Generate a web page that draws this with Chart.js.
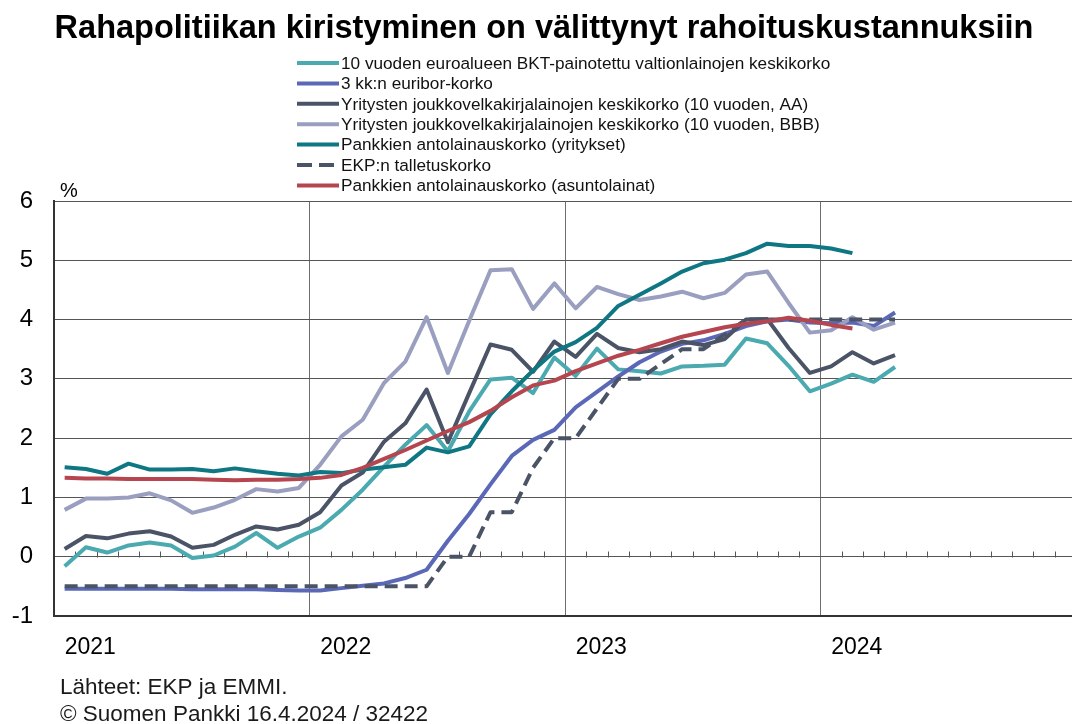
<!DOCTYPE html>
<html><head><meta charset="utf-8">
<script src="https://cdn.jsdelivr.net/npm/chart.js@4.4.1/dist/chart.umd.min.js"></script>
<style>
html,body{margin:0;padding:0;background:#fff;overflow:hidden;}
#wrap{position:relative;width:1080px;height:724px;}
canvas{display:block;}
</style></head><body>
<div id="wrap"><canvas id="c" width="1080" height="724"></canvas></div>
<script>
// ---- categories ----
const years = ['2021', '2022', '2023', '2024'];
const monthNums = ['01','02','03','04','05','06','07','08','09','10','11','12'];
const months = years.flatMap(y => monthNums.map(m => y + '-' + m));

// ---- series (monthly, %, Jan 2021 ... Apr 2024) ----
const gov10 = [-0.16, 0.16, 0.07, 0.19, 0.24, 0.19, -0.02, 0.02, 0.17, 0.40, 0.15, 0.34,
  0.49, 0.79, 1.13, 1.52, 1.89, 2.22, 1.78, 2.45, 2.99, 3.02, 2.76, 3.36,
  3.05, 3.51, 3.16, 3.13, 3.09, 3.21, 3.22, 3.24, 3.68, 3.60, 3.22, 2.79,
  2.92, 3.07, 2.95, 3.20];
const euribor3m = [-0.54, -0.54, -0.54, -0.54, -0.54, -0.54, -0.55, -0.55, -0.55, -0.55, -0.56, -0.57,
  -0.57, -0.53, -0.49, -0.45, -0.36, -0.22, 0.27, 0.72, 1.22, 1.70, 1.97, 2.14,
  2.52, 2.78, 3.04, 3.28, 3.46, 3.59, 3.65, 3.76, 3.89, 3.97, 4.00, 3.95,
  3.94, 3.95, 3.89, 4.12];
const corpAA = [0.13, 0.35, 0.31, 0.39, 0.43, 0.34, 0.15, 0.20, 0.37, 0.51, 0.46, 0.54,
  0.75, 1.20, 1.42, 1.94, 2.25, 2.82, 1.93, 2.76, 3.58, 3.49, 3.12, 3.63,
  3.37, 3.76, 3.52, 3.45, 3.50, 3.63, 3.57, 3.67, 4.00, 4.01, 3.52, 3.10,
  3.21, 3.45, 3.26, 3.40];
const corpBBB = [0.79, 0.98, 0.98, 1.00, 1.07, 0.95, 0.74, 0.83, 0.96, 1.14, 1.10, 1.16,
  1.55, 2.03, 2.31, 2.93, 3.29, 4.04, 3.10, 3.98, 4.83, 4.85, 4.18, 4.61,
  4.19, 4.55, 4.43, 4.33, 4.39, 4.47, 4.36, 4.45, 4.76, 4.81, 4.28, 3.78,
  3.82, 4.04, 3.83, 3.95];
const bankLoansCorp = [1.51, 1.48, 1.40, 1.57, 1.47, 1.47, 1.48, 1.44, 1.49, 1.44, 1.40, 1.37,
  1.43, 1.41, 1.47, 1.51, 1.55, 1.84, 1.76, 1.86, 2.40, 2.79, 3.14, 3.46,
  3.62, 3.86, 4.23, 4.42, 4.61, 4.81, 4.95, 5.01, 5.12, 5.28, 5.24, 5.24,
  5.20, 5.12];
const ecbDeposit = [-0.5, -0.5, -0.5, -0.5, -0.5, -0.5, -0.5, -0.5, -0.5, -0.5, -0.5, -0.5,
  -0.5, -0.5, -0.5, -0.5, -0.5, -0.5, 0.0, 0.0, 0.75, 0.75, 1.5, 2.0,
  2.0, 2.5, 3.0, 3.0, 3.25, 3.5, 3.5, 3.75, 4.0, 4.0, 4.0, 4.0,
  4.0, 4.0, 4.0, 4.0];
const bankLoansHousing = [1.33, 1.32, 1.32, 1.31, 1.31, 1.31, 1.31, 1.30, 1.29, 1.30, 1.30, 1.31,
  1.33, 1.38, 1.50, 1.65, 1.80, 1.96, 2.12, 2.27, 2.46, 2.69, 2.89, 2.97,
  3.13, 3.26, 3.39, 3.49, 3.60, 3.71, 3.79, 3.87, 3.93, 3.97, 4.03, 3.98,
  3.91, 3.85];

const seriesLabels = [
  '10 vuoden euroalueen BKT-painotettu valtionlainojen keskikorko',
  '3 kk:n euribor-korko',
  'Yritysten joukkovelkakirjalainojen keskikorko (10 vuoden, AA)',
  'Yritysten joukkovelkakirjalainojen keskikorko (10 vuoden, BBB)',
  'Pankkien antolainauskorko (yritykset)',
  'EKP:n talletuskorko',
  'Pankkien antolainauskorko (asuntolainat)'
];
const yTicks = [-1, 0, 1, 2, 3, 4, 5, 6];
const titleText = 'Rahapolitiikan kiristyminen on välittynyt rahoituskustannuksiin';
const sourceText = 'Lähteet: EKP ja EMMI.';
const copyText = '© Suomen Pankki 16.4.2024 / 32422';

const seriesData = [gov10, euribor3m, corpAA, corpBBB, bankLoansCorp, ecbDeposit, bankLoansHousing];
const colors = ['#4aaab0', '#5b68b8', '#4a5466', '#9a9ebf', '#0f7783', '#4a5466', '#b5464f'];
const dashes = [[], [], [], [], [], [13, 7], []];

const FONT = "'Liberation Sans', Arial, sans-serif";

const datasets = seriesData.map((d, i) => ({
  label: seriesLabels[i],
  data: d,
  borderColor: colors[i],
  backgroundColor: colors[i],
  borderWidth: 4,
  borderDash: dashes[i],
  borderCapStyle: 'butt',
  borderJoinStyle: 'round',
  pointRadius: 0,
  tension: 0,
  fill: false,
  order: seriesData.length - 1 - i
}));

const deco = {
  id: 'deco',
  beforeDatasetsDraw(chart) {
    const ctx = chart.ctx, xs = chart.scales.x, ys = chart.scales.y;
    const y0 = Math.round(ys.getPixelForValue(0)) + 0.5;
    ctx.save();
    ctx.strokeStyle = '#555';
    ctx.lineWidth = 1;
    ctx.beginPath();
    for (let i = 1; i < months.length; i++) {
      if (i % 12 === 0) continue;
      const x = Math.round((xs.getPixelForValue(i - 1) + xs.getPixelForValue(i)) / 2) + 0.5;
      ctx.moveTo(x, y0);
      ctx.lineTo(x, y0 - 6);
    }
    ctx.stroke();
    ctx.restore();
  },
  afterDraw(chart) {
    const ctx = chart.ctx, area = chart.chartArea;
    ctx.save();
    // title
    ctx.fillStyle = '#000';
    ctx.font = "bold 32.5px " + FONT;
    ctx.textAlign = 'center';
    ctx.textBaseline = 'alphabetic';
    ctx.fillText(titleText, 544, 38);
    // legend
    ctx.font = "17.2px " + FONT;
    ctx.textAlign = 'left';
    ctx.textBaseline = 'middle';
    chart.data.datasets.forEach((ds, i) => {
      const y = 63 + i * 20.4;
      ctx.strokeStyle = ds.borderColor;
      ctx.lineWidth = 4;
      ctx.setLineDash(ds.borderDash && ds.borderDash.length ? [15, 7] : []);
      ctx.beginPath();
      ctx.moveTo(297, y);
      ctx.lineTo(339, y);
      ctx.stroke();
      ctx.setLineDash([]);
      ctx.fillStyle = '#111';
      ctx.fillText(ds.label, 341, y + 1);
    });
    // unit
    ctx.font = "20px " + FONT;
    ctx.textBaseline = 'alphabetic';
    ctx.fillStyle = '#000';
    ctx.fillText('%', area.left + 6, area.top - 4);
    // footer
    ctx.font = "22.5px " + FONT;
    ctx.fillStyle = '#1a1a1a';
    ctx.fillText(sourceText, 60, 694);
    ctx.fillText(copyText, 60, 721);
    ctx.restore();
  }
};

new Chart(document.getElementById('c'), {
  type: 'line',
  data: { labels: months, datasets },
  options: {
    responsive: false,
    animation: false,
    devicePixelRatio: 1,
    layout: { padding: { top: 201, left: 0, right: 4, bottom: 48 } },
    plugins: { legend: { display: false }, title: { display: false }, tooltip: { enabled: false } },
    scales: {
      x: {
        type: 'category',
        offset: true,
        afterFit(s) { s.height = 60; s.paddingLeft = 0; s.paddingRight = 0; },
        grid: {
          offset: true,
          drawTicks: false,
          color: c => (c.index % 12 === 0 ? '#6e6e6e' : 'rgba(0,0,0,0)'),
          lineWidth: 1
        },
        border: { display: true, color: '#333', width: 2 },
        ticks: {
          autoSkip: false,
          maxRotation: 0,
          minRotation: 0,
          align: 'start',
          padding: 18,
          color: '#000',
          font: { family: FONT, size: 23 },
          callback: (v, i) => (i % 12 === 0 ? years[i / 12] : '')
        }
      },
      y: {
        min: yTicks[0],
        max: yTicks[yTicks.length - 1],
        afterFit(s) { s.width = 54; },
        afterBuildTicks(s) { s.ticks = yTicks.map(v => ({ value: v })); },
        grid: { drawTicks: false, color: '#555', lineWidth: 1 },
        border: { display: true, color: '#333', width: 2 },
        ticks: {
          padding: 21,
          color: '#000',
          font: { family: FONT, size: 24 }
        }
      }
    }
  },
  plugins: [deco]
});
</script>
</body></html>
